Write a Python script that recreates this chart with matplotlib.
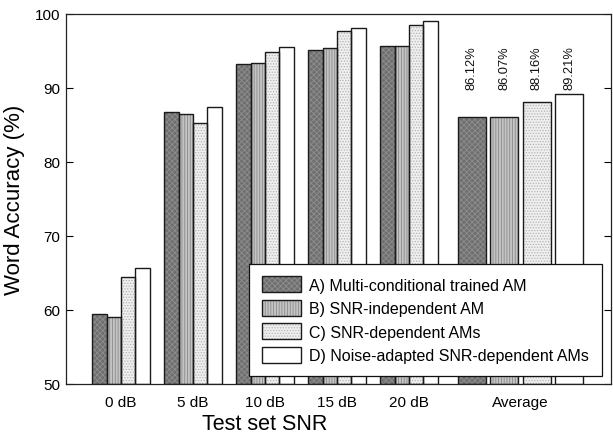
import matplotlib
matplotlib.use("Agg")
import matplotlib.pyplot as plt
import numpy as np
from matplotlib.patches import Patch
from matplotlib.legend_handler import HandlerTuple

plt.rcParams['font.family'] = ['Liberation Sans', 'DejaVu Sans']
plt.rcParams['hatch.linewidth'] = 0.6

categories = ["0 dB", "5 dB", "10 dB", "15 dB", "20 dB"]
avg_label = "Average"
series_names = ["A) Multi-conditional trained AM",
                "B) SNR-independent AM",
                "C) SNR-dependent AMs",
                "D) Noise-adapted SNR-dependent AMs"]
vals_A = [59.5, 86.8, 93.3, 95.1, 95.7]
vals_B = [59.1, 86.5, 93.4, 95.4, 95.7]
vals_C = [64.5, 85.3, 94.8, 97.7, 98.5]
vals_D = [65.7, 87.5, 95.5, 98.1, 99.0]
averages = [86.12, 86.07, 88.16, 89.21]
avg_labels = ["86.12%", "86.07%", "88.16%", "89.21%"]

series = [vals_A, vals_B, vals_C, vals_D]
faces = ['#6f6f6f', '#c4c4c4', '#efefef', '#ffffff']
hcols = ['#8e8e8e', '#8a8a8a', '#b4b4b4', '#ffffff']
hatches = ['xxxxxx', '||||||', '......', '']

W, H = 613, 435
fig = plt.figure(figsize=(W / 100, H / 100), dpi=100)
ax = fig.add_axes([66 / W, (H - 385) / H, 545 / W, 370 / H])

x = np.arange(len(categories))
bw = 0.2
avg_x = 5.55
avg_bw = 0.39
avg_step = 0.45

edge = '#1a1a1a'
for i, vals in enumerate(series):
    pos = x + (i - 1.5) * bw
    ax.bar(pos, np.array(vals) - 50, bw, bottom=50, color=faces[i],
           edgecolor=hcols[i], hatch=hatches[i], linewidth=0, zorder=2)
    ax.bar(pos, np.array(vals) - 50, bw, bottom=50, fill=False,
           edgecolor=edge, linewidth=1.0, zorder=3)
    apos = avg_x + (i - 1.5) * avg_step
    ax.bar([apos], [averages[i] - 50], avg_bw, bottom=50, color=faces[i],
           edgecolor=hcols[i], hatch=hatches[i], linewidth=0, zorder=2)
    ax.bar([apos], [averages[i] - 50], avg_bw, bottom=50, fill=False,
           edgecolor=edge, linewidth=1.0, zorder=3)
    ax.text(apos, 89.9, avg_labels[i], rotation=90, ha='center', va='bottom',
            fontsize=9.3, color='#111111')

ax.set_xlim(-0.764, 6.806)
ax.set_ylim(50, 100)
ax.set_yticks([50, 60, 70, 80, 90, 100])
ax.set_xticks(list(x) + [avg_x])
ax.set_xticklabels(categories + [avg_label])
ax.tick_params(axis='x', length=0, pad=8, labelsize=11)
ax.tick_params(axis='y', direction='in', length=5, width=0.8, pad=4,
               labelsize=11, right=True)
for s in ax.spines.values():
    s.set_linewidth(0.9)
    s.set_color('#222222')

ax.set_ylabel("Word Accuracy (%)", fontsize=16)
ax.yaxis.set_label_coords((25 - 66) / 545, 0.5)
ax.set_xlabel("Test set SNR", fontsize=15.5, va='baseline')
ax.xaxis.set_label_coords((265 - 66) / 545, (385 - 430) / 370)

handles = []
for i in range(4):
    p1 = Patch(facecolor=faces[i], edgecolor=hcols[i], hatch=hatches[i], linewidth=0)
    p2 = Patch(fill=False, edgecolor=edge, linewidth=1.0)
    handles.append((p1, p2))
leg = ax.legend(handles, series_names, handler_map={tuple: HandlerTuple(ndivide=1, pad=0)},
                loc='lower right', bbox_to_anchor=((602 - 66) / 545, (385 - 377) / 370),
                borderaxespad=0, fontsize=11.5, handlelength=2.45, handleheight=1.15,
                handletextpad=0.5, labelspacing=0.45, borderpad=0.8,
                fancybox=False, framealpha=1, edgecolor='#111111')
leg.get_frame().set_linewidth(0.9)
leg.set_zorder(5)

fig.savefig("out.png", dpi=100)
